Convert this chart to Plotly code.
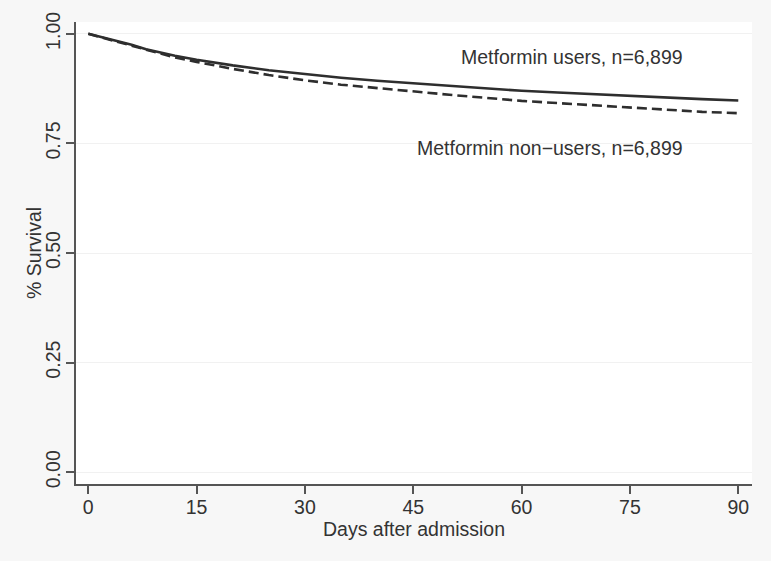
import plotly.graph_objects as go

days = [0, 2, 4, 6, 8, 10, 12, 15, 20, 25, 30, 35, 40, 45, 50, 55, 60, 65, 70, 75, 80, 85, 90]
users = [1.0, 0.992, 0.983, 0.975, 0.965, 0.957, 0.950, 0.941, 0.928, 0.917, 0.908, 0.900,
         0.893, 0.887, 0.881, 0.875, 0.870, 0.866, 0.862, 0.858, 0.854, 0.851, 0.848]
non_users = [1.0, 0.991, 0.982, 0.973, 0.963, 0.954, 0.946, 0.936, 0.920, 0.906, 0.894, 0.884,
             0.876, 0.868, 0.861, 0.854, 0.847, 0.842, 0.837, 0.831, 0.826, 0.822, 0.819]
x_ticks = [0, 15, 30, 45, 60, 75, 90]
y_ticks = [0, 0.25, 0.5, 0.75, 1.0]
y_tick_labels = ["0.00", "0.25", "0.50", "0.75", "1.00"]

FONT = "Liberation Sans, Arial, sans-serif"
TXT = "#333333"
FS = 19.5

fig = go.Figure()
fig.add_trace(go.Scatter(x=days, y=non_users, mode="lines",
                         line=dict(color="#2e2e2e", width=2.6, dash="10px,5px"),
                         name="Metformin non-users", showlegend=False))
fig.add_trace(go.Scatter(x=days, y=users, mode="lines",
                         line=dict(color="#2e2e2e", width=2.6),
                         name="Metformin users", showlegend=False))

fig.add_annotation(x=82.6, y=0.948, text="Metformin users, n=6,899", showarrow=False,
                   xanchor="right", yanchor="middle", font=dict(family=FONT, size=FS, color=TXT))
fig.add_annotation(x=82.6, y=0.739, text="Metformin non\u2212users, n=6,899", showarrow=False,
                   xanchor="right", yanchor="middle", font=dict(family=FONT, size=FS, color=TXT))
fig.add_annotation(xref="paper", yref="paper", x=0, y=0.5, xshift=-42, text="% Survival",
                   textangle=-90, showarrow=False, xanchor="center", yanchor="middle",
                   font=dict(family=FONT, size=FS, color=TXT))

fig.update_layout(
    width=771, height=561,
    margin=dict(l=76, r=19, t=20, b=77),
    paper_bgcolor="#f7f7f7",
    plot_bgcolor="#ffffff",
    font=dict(family=FONT, size=FS, color=TXT),
    xaxis=dict(range=[-1.7, 91.9], tickvals=x_ticks, showgrid=False, zeroline=False,
               showline=True, linecolor="#555555", linewidth=1.5,
               ticks="outside", ticklen=8, tickcolor="#555555", tickwidth=1.5,
               ticklabelstandoff=-3,
               title=dict(text="Days after admission", standoff=0,
                          font=dict(family=FONT, size=FS, color=TXT))),
    yaxis=dict(range=[-0.027, 1.027], tickvals=y_ticks, ticktext=y_tick_labels,
               tickangle=-90, showgrid=True, gridcolor="#f1f1f1", gridwidth=1,
               zeroline=False, showline=True, linecolor="#555555", linewidth=1.5,
               ticks="outside", ticklen=8, tickcolor="#555555", tickwidth=1.5,
               ticklabelstandoff=-2),
)

fig.write_html("out.html", config={"displayModeBar": False},
               post_script="document.body.style.margin='0';")
